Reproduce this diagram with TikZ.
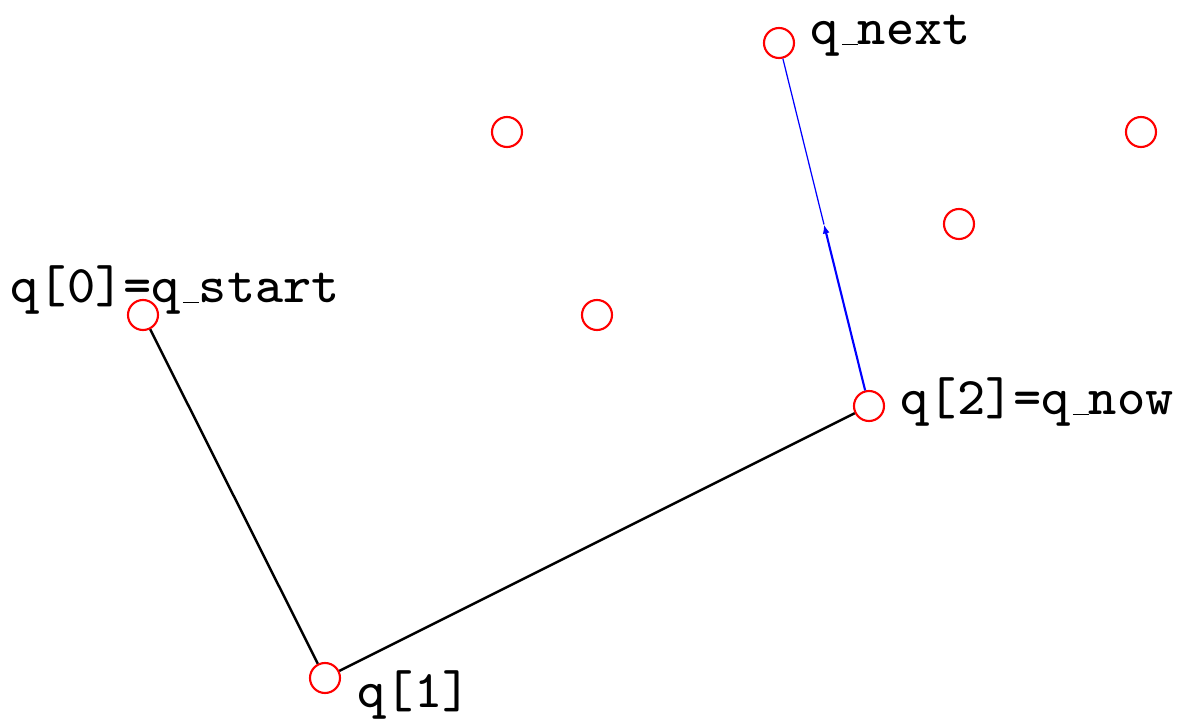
\documentclass[tikz,border=0pt]{standalone}
\usepackage{fontspec}
\setmonofont{lmmono8-regular.otf}
\usepackage{tikz}
\usetikzlibrary{arrows.meta,calc}
\newcommand{\us}{\kern.06em\vbox{\hrule width .3em}}
\tikzset{
  pt/.style={circle, draw=red, line width=0.6pt, minimum size=0.3cm, inner sep=0pt},
  lbl/.style={anchor=base west, inner sep=0pt, font=\fontsize{15.1}{18}\selectfont\ttfamily},
}
\begin{document}
\begin{tikzpicture}
\useasboundingbox (0,0) rectangle (11.77,7.24);
% sample points
\node[pt] (qnext) at (7.79,6.81) {};
\node[pt] (pa) at (5.07,5.92) {};
\node[pt] (pb) at (11.41,5.92) {};
\node[pt] (pc) at (9.59,5.00) {};
\node[pt] (qstart) at (1.43,4.09) {};
\node[pt] (pd) at (5.97,4.09) {};
\node[pt] (qnow) at (8.69,3.18) {};
\node[pt] (qone) at (3.25,0.46) {};
% labels
\node[lbl] (lnext) at (8.10,6.79) {q\us next};
\node[lbl] (lstart) at (0.10,4.21) {q[0]=q\us start};
\node[lbl] (lnow) at (9.00,3.09) {q[2]=q\us now};
\node[lbl] (lone) at (3.57,0.17) {q[1]};
% path so far
\draw[line width=0.7pt]
    (qstart)--(qone);
\draw[line width=0.7pt]
    (qone)--(qnow);
% step towards q_next
\coordinate (mid) at ($(qnow)!0.5!(qnext)$);
\draw[blue, line width=0.6pt, -{Latex[length=0.09cm,width=0.07cm]}]
    (qnow)--(mid);
\draw[blue, line width=0.35pt]
    (mid)--(qnext);
\end{tikzpicture}
\end{document}
